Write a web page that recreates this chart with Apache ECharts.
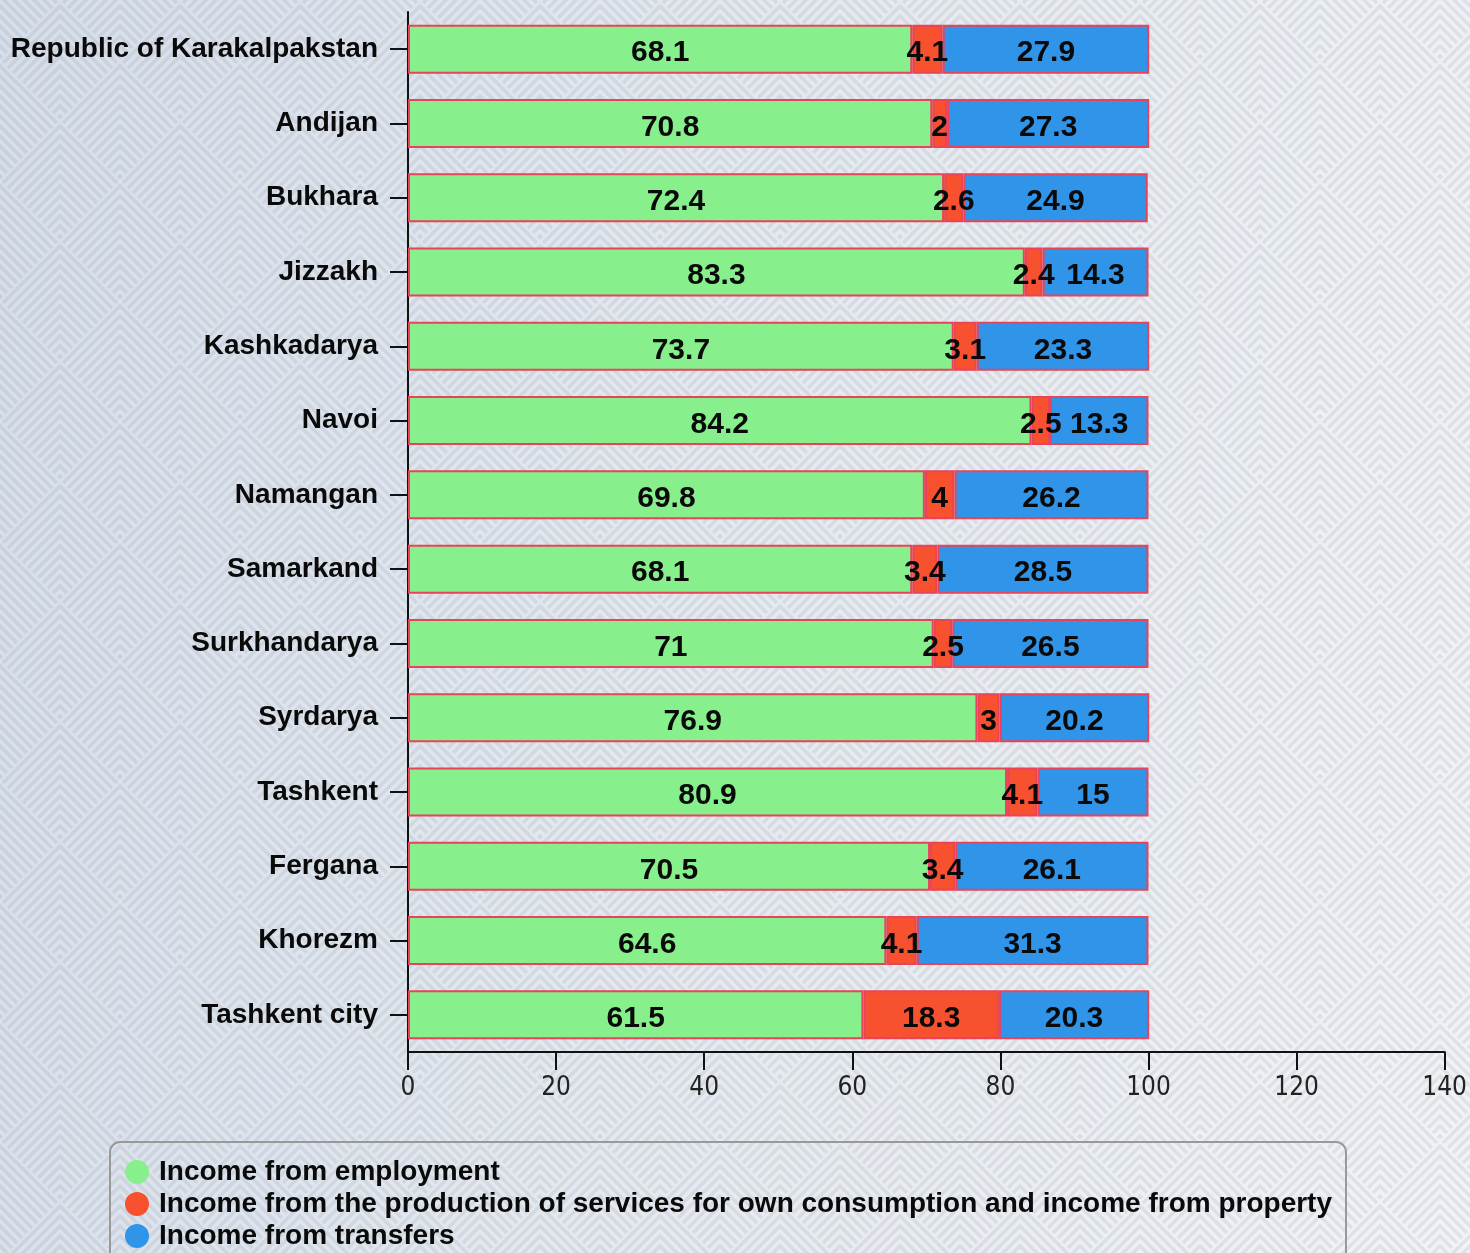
<!DOCTYPE html>
<html>
<head>
<meta charset="utf-8">
<script src="https://cdn.jsdelivr.net/npm/echarts@6/dist/echarts.min.js"></script>
<style>
  html, body { margin: 0; padding: 0; }
  #main {
    width: 1470px; height: 1253px;
    background: linear-gradient(100deg, #d6deea 0%, #e4e9ef 45%, #f1f3f6 100%);
  }
</style>
</head>
<body>
<div id="main"></div>
<script>
const regions = [
  'Republic of Karakalpakstan', 'Andijan', 'Bukhara', 'Jizzakh', 'Kashkadarya',
  'Navoi', 'Namangan', 'Samarkand', 'Surkhandarya', 'Syrdarya',
  'Tashkent', 'Fergana', 'Khorezm', 'Tashkent city'
]
const employment = [68.1, 70.8, 72.4, 83.3, 73.7, 84.2, 69.8, 68.1, 71, 76.9, 80.9, 70.5, 64.6, 61.5]
const production = [4.1, 2, 2.6, 2.4, 3.1, 2.5, 4, 3.4, 2.5, 3, 4.1, 3.4, 4.1, 18.3]
const transfers = [27.9, 27.3, 24.9, 14.3, 23.3, 13.3, 26.2, 28.5, 26.5, 20.2, 15, 26.1, 31.3, 20.3]
const seriesNames = [
  'Income from employment',
  'Income from the production of services for own consumption and income from property',
  'Income from transfers'
]

const COLORS = ['#88ef8d', '#f7512f', '#3094e9']
const FONT = 'Liberation Sans, Arial, sans-serif'

// chevron background tile
const tile = document.createElement('canvas')
tile.width = 120
tile.height = 120
const ctx = tile.getContext('2d')
ctx.strokeStyle = 'rgba(105,118,135,0.13)'
ctx.lineWidth = 3.4
const centers = [[0, 0], [120, 0], [0, 120], [120, 120], [60, 60]]
centers.forEach(([cx, cy]) => {
  ctx.save()
  ctx.beginPath()
  ctx.moveTo(cx, cy - 60)
  ctx.lineTo(cx + 60, cy)
  ctx.lineTo(cx, cy + 60)
  ctx.lineTo(cx - 60, cy)
  ctx.closePath()
  ctx.clip()
  for (let k = 0; k < 12; k++) {
    const ay = cy - 60 + 6 + k * 10
    ctx.beginPath()
    ctx.moveTo(cx - 80, ay + 80)
    ctx.lineTo(cx, ay)
    ctx.lineTo(cx + 80, ay + 80)
    ctx.stroke()
  }
  ctx.restore()
})

const myChart = echarts.init(document.getElementById('main'))

const makeSeries = (name, data, i) => ({
  name,
  type: 'bar',
  stack: 'total',
  barWidth: 49,
  data,
  itemStyle: { color: COLORS[i], borderColor: '#e8435a', borderWidth: 2 },
  label: {
    show: true,
    position: 'inside',
    offset: [0, 4],
    color: '#0a0a0a',
    fontFamily: FONT,
    fontWeight: 'bold',
    fontSize: 30
  },
  emphasis: { disabled: true }
})

const options = {
  backgroundColor: { image: tile, repeat: 'repeat' },
  animation: false,
  grid: { left: 408, right: 23, top: 12, bottom: 201, containLabel: false },
  legend: {
    orient: 'vertical',
    left: 110,
    top: 1142,
    height: 100,
    padding: [16, 14, 13, 15],
    itemWidth: 34,
    itemHeight: 24,
    itemGap: 4,
    icon: 'circle',
    itemStyle: { borderWidth: 0 },
    borderColor: '#999',
    borderWidth: 2,
    borderRadius: 10,
    textStyle: { fontFamily: FONT, fontWeight: 'bold', fontSize: 28, lineHeight: 28, color: '#0a0a0a' },
    data: seriesNames
  },
  xAxis: {
    type: 'value',
    min: 0,
    max: 140,
    interval: 20,
    splitLine: { show: false },
    axisLine: { show: true, lineStyle: { color: '#111', width: 2 } },
    axisTick: { show: true, length: 18, lineStyle: { color: '#111', width: 2 } },
    axisLabel: {
      margin: 23,
      color: '#222',
      fontFamily: 'Liberation Sans Narrow, DejaVu Sans Condensed, sans-serif',
      fontSize: 26
    }
  },
  yAxis: {
    type: 'category',
    inverse: true,
    data: regions,
    axisLine: { show: true, lineStyle: { color: '#111', width: 2 } },
    axisTick: { show: true, length: 18, alignWithLabel: true, lineStyle: { color: '#111', width: 2 } },
    axisLabel: {
      margin: 30,
      color: '#0a0a0a',
      fontFamily: FONT,
      fontWeight: 'bold',
      fontSize: 28
    }
  },
  series: [
    makeSeries(seriesNames[0], employment, 0),
    makeSeries(seriesNames[1], production, 1),
    makeSeries(seriesNames[2], transfers, 2)
  ]
}

myChart.setOption(options)
</script>
</body>
</html>
